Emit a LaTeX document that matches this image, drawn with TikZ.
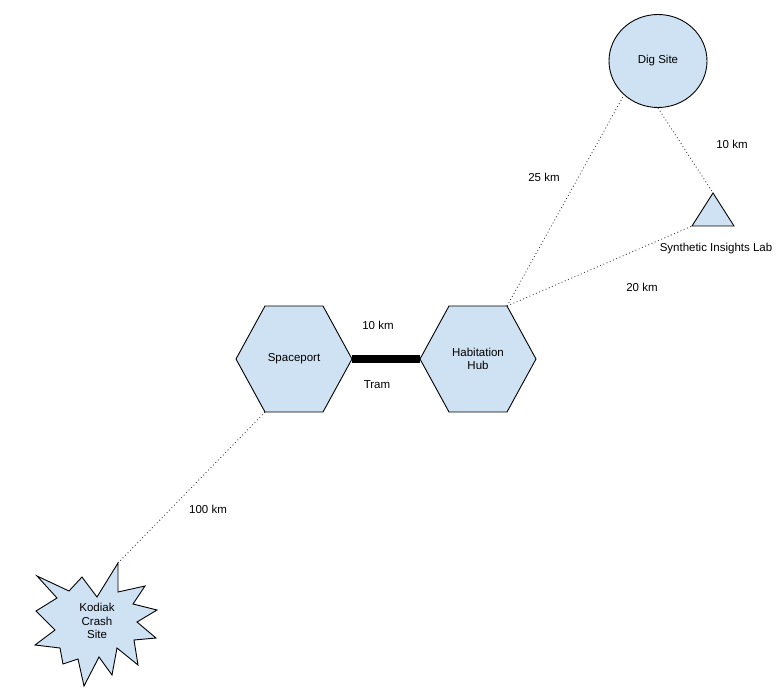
\documentclass[tikz,border=0pt]{standalone}
\usepackage{fontspec}
\setmainfont{Liberation Sans}
\usetikzlibrary{shapes.geometric}
\definecolor{fillblue}{RGB}{207,226,243}
\begin{document}
\begin{tikzpicture}[x=1pt,y=-1pt,
  shapefill/.style={draw=black, fill=fillblue, line width=0.9pt, line join=miter},
  lbl/.style={font=\fontsize{11.5}{13.5}\selectfont, align=center, inner sep=0pt, text=black},
  dotline/.style={draw=black!75, line width=0.9pt, dash pattern=on 0.9pt off 2.6pt},
  tram/.style={line width=7.5pt, draw=black}]
\useasboundingbox (0,0) rectangle (784,700);

% corner coordinates
\coordinate (spL) at (236,359);
\coordinate (spTL) at (265,306);
\coordinate (spTR) at (323,306);
\coordinate (spR) at (352,359);
\coordinate (spBR) at (323,412);
\coordinate (spBL) at (265,412);
\coordinate (hubL) at (420,359);
\coordinate (hubTL) at (449,306);
\coordinate (hubTR) at (507,306);
\coordinate (hubR) at (536,359);
\coordinate (hubBR) at (507,412);
\coordinate (hubBL) at (449,412);
\coordinate (triA) at (713,193);
\coordinate (triL) at (692,226);
\coordinate (triR) at (734,226);
\coordinate (kt) at (118,563);

\node[shapefill, ellipse, minimum width=98pt, minimum height=93pt, lbl] (dig) at (658,61) {Dig Site};

% dotted connectors
\draw[dotline] (spBL) -- (kt);
\draw[dotline] (hubTR) -- (dig.225);
\draw[dotline] (dig.south) -- (triA);
\draw[dotline] (hubTR) -- (triL);

% hexagons
\draw[shapefill] (spL) -- (spTL) -- (spTR) -- (spR) -- (spBR) -- (spBL) -- cycle;
\draw[shapefill] (hubL) -- (hubTL) -- (hubTR) -- (hubR) -- (hubBR) -- (hubBL) -- cycle;
\node[lbl] (sp) at (294,359) {Spaceport};
\node[lbl] (hub) at (478,359) {Habitation\\Hub};

% tram
\draw[tram] (spR) -- (hubL);

% triangle
\draw[shapefill] (triA) -- (triR) -- (triL) -- cycle;
\node[lbl] (sil) at (716,248.5) {Synthetic Insights Lab};

% starburst
\draw[shapefill] (37,576) -- (69,591) -- (82,577) -- (97,597) -- (kt) -- (118,592)
  -- (145,586) -- (133,604) -- (157,610) -- (137,622) -- (156,638) -- (134,640)
  -- (138,665) -- (117,648) -- (112,675) -- (99,657) -- (84,686) -- (78,659)
  -- (63,664) -- (60,648) -- (35,645) -- (55,630) -- (36,611) -- (57,598) -- cycle;
\node[lbl] (kod) at (97,621) {Kodiak\\Crash\\Site};

% labels
\node[lbl] (l25) at (544,177) {25 km};
\node[lbl] (l10a) at (732,144) {10 km};
\node[lbl] (l20) at (642,287) {20 km};
\node[lbl] (l10b) at (378,325) {10 km};
\node[lbl] (ltram) at (377,385) {Tram};
\node[lbl] (l100) at (208,509) {100 km};
\end{tikzpicture}
\end{document}
